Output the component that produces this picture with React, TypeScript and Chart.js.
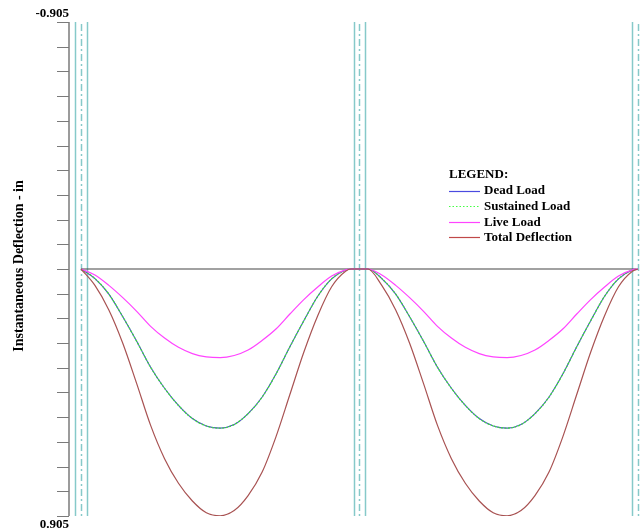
import React, { useEffect, useRef } from "react";
import { Chart, registerables } from "chart.js";

Chart.register(...registerables);

// Stations along the beam (ft); span 1 then span 2
const stations = [
  0, 1, 2, 3, 4, 5, 6, 7, 8, 9, 10, 11, 12, 13, 14, 15, 16, 17, 18, 19, 19.4,
  20.6, 21.6, 22.6, 23.6, 24.6, 25.6, 26.6, 27.6, 28.6, 29.6, 30.6, 31.6, 32.6, 33.6, 34.6, 35.6, 36.6, 37.6, 38.6, 39.6, 40,
];

// Instantaneous deflection (in), positive = downward
const deadLoad = [
  0, 0.035, 0.092, 0.175, 0.265, 0.36, 0.437, 0.5, 0.548, 0.575, 0.583, 0.57, 0.53, 0.47, 0.385, 0.285, 0.19, 0.1, 0.036, 0.004, 0,
  0, 0.035, 0.092, 0.175, 0.265, 0.36, 0.437, 0.5, 0.548, 0.575, 0.583, 0.57, 0.53, 0.47, 0.385, 0.285, 0.19, 0.1, 0.036, 0.004, 0,
];
const sustainedLoad = [
  0, 0.035, 0.092, 0.175, 0.265, 0.36, 0.437, 0.5, 0.548, 0.575, 0.583, 0.57, 0.53, 0.47, 0.385, 0.285, 0.19, 0.1, 0.036, 0.004, 0,
  0, 0.035, 0.092, 0.175, 0.265, 0.36, 0.437, 0.5, 0.548, 0.575, 0.583, 0.57, 0.53, 0.47, 0.385, 0.285, 0.19, 0.1, 0.036, 0.004, 0,
];
const liveLoad = [
  0, 0.022, 0.06, 0.105, 0.155, 0.21, 0.253, 0.287, 0.31, 0.322, 0.325, 0.317, 0.297, 0.262, 0.22, 0.165, 0.112, 0.066, 0.026, 0.003, 0,
  0, 0.022, 0.06, 0.105, 0.155, 0.21, 0.253, 0.287, 0.31, 0.322, 0.325, 0.317, 0.297, 0.262, 0.22, 0.165, 0.112, 0.066, 0.026, 0.003, 0,
];
const totalDeflection = [
  0, 0.06, 0.15, 0.272, 0.42, 0.573, 0.695, 0.785, 0.85, 0.893, 0.904, 0.885, 0.83, 0.745, 0.615, 0.46, 0.305, 0.171, 0.065, 0.008, 0,
  0, 0.06, 0.15, 0.272, 0.42, 0.573, 0.695, 0.785, 0.85, 0.893, 0.904, 0.885, 0.83, 0.745, 0.615, 0.46, 0.305, 0.171, 0.065, 0.008, 0,
];

const baselineX = [0, 39.85];
const supports = [0, 20, 40];
const supportHalfWidth = 0.43;

const yLimit = 0.905;
const yTickCount = 21;
const yEndLabels = ["-0.905", "0.905"];
const yTitle = "Instantaneous Deflection - in";
const legendTitle = "LEGEND:";
const seriesLabels = ["Dead Load", "Sustained Load", "Live Load", "Total Deflection"];

const SERIF = "'Liberation Serif', 'Times New Roman', serif";

const pts = (vals: number[]) => stations.map((x, i) => ({ x, y: vals[i] }));

export default function App() {
  const ref = useRef<HTMLCanvasElement | null>(null);

  useEffect(() => {
    if (!ref.current) return;

    const legendStyles = [
      { color: "#4a4ae0", dash: [] as number[] },
      { color: "#44ff44", dash: [1.5, 2] },
      { color: "#ff44ff", dash: [] as number[] },
      { color: "#c04848", dash: [] as number[] },
    ];

    const decor = {
      id: "decor",
      beforeDatasetsDraw(chart: any) {
        const { ctx, chartArea, scales } = chart;
        const xs = scales.x;
        ctx.save();
        ctx.strokeStyle = "#86c9c9";
        ctx.lineWidth = 1.5;
        supports.forEach((s) => {
          const c = xs.getPixelForValue(s);
          const l = xs.getPixelForValue(s - supportHalfWidth);
          const r = xs.getPixelForValue(s + supportHalfWidth);
          [l, r].forEach((px) => {
            ctx.setLineDash([]);
            ctx.beginPath();
            ctx.moveTo(Math.round(px) + 0.5, chartArea.top);
            ctx.lineTo(Math.round(px) + 0.5, chartArea.bottom);
            ctx.stroke();
          });
          ctx.setLineDash([7, 3, 2, 3]);
          ctx.beginPath();
          ctx.moveTo(Math.round(c) + 0.5, chartArea.top + 2);
          ctx.lineTo(Math.round(c) + 0.5, chartArea.bottom);
          ctx.stroke();
        });
        ctx.restore();
      },
      afterDraw(chart: any) {
        const { ctx, chartArea, scales } = chart;
        const ys = scales.y;
        const left = chartArea.left;
        ctx.save();
        // axis line
        ctx.strokeStyle = "#7a7a7a";
        ctx.lineWidth = 1.5;
        ctx.beginPath();
        ctx.moveTo(left, ys.getPixelForValue(-yLimit));
        ctx.lineTo(left, ys.getPixelForValue(yLimit));
        ctx.stroke();
        // ticks
        ctx.lineWidth = 1;
        const step = (2 * yLimit) / (yTickCount - 1);
        for (let i = 0; i < yTickCount; i++) {
          const py = Math.round(ys.getPixelForValue(-yLimit + i * step)) + 0.5;
          ctx.beginPath();
          ctx.moveTo(left - 12, py);
          ctx.lineTo(left, py);
          ctx.stroke();
        }
        // end labels
        ctx.fillStyle = "#000";
        ctx.font = `bold 13px ${SERIF}`;
        ctx.textAlign = "right";
        ctx.textBaseline = "alphabetic";
        ctx.fillText(yEndLabels[0], left, ys.getPixelForValue(-yLimit) - 5);
        ctx.fillText(yEndLabels[1], left, ys.getPixelForValue(yLimit) + 12);
        // title
        ctx.save();
        ctx.translate(19, (chartArea.top + chartArea.bottom) / 2 - 3);
        ctx.rotate(-Math.PI / 2);
        ctx.font = `bold 14px ${SERIF}`;
        ctx.textAlign = "center";
        ctx.textBaseline = "middle";
        ctx.fillText(yTitle, 0, 0);
        ctx.restore();
        // legend
        const lx = 449;
        const ly = 175;
        ctx.font = `bold 13px ${SERIF}`;
        ctx.textAlign = "left";
        ctx.textBaseline = "middle";
        ctx.fillText(legendTitle, lx, ly);
        seriesLabels.forEach((lab, i) => {
          const y = 190.5 + i * 15.6;
          ctx.strokeStyle = legendStyles[i].color;
          ctx.lineWidth = 1.2;
          ctx.setLineDash(legendStyles[i].dash);
          ctx.beginPath();
          ctx.moveTo(lx, Math.round(y) + 0.5);
          ctx.lineTo(lx + 31, Math.round(y) + 0.5);
          ctx.stroke();
          ctx.setLineDash([]);
          ctx.fillText(lab, lx + 35, y + 0.5);
        });
        ctx.restore();
      },
    };

    const common = {
      pointRadius: 0,
      fill: false,
      cubicInterpolationMode: "monotone" as const,
    };

    const chart = new Chart(ref.current, {
      type: "line",
      data: {
        datasets: [
          {
            label: "baseline",
            data: baselineX.map((x) => ({ x, y: 0 })),
            borderColor: "#444444",
            borderWidth: 1.2,
            pointRadius: 0,
            order: 10,
          },
          { ...common, label: seriesLabels[0], data: pts(deadLoad), borderColor: "#5050c8", borderWidth: 1.1, order: 4 },
          {
            ...common,
            label: seriesLabels[1],
            data: pts(sustainedLoad),
            borderColor: "#3cdc3c",
            borderWidth: 1.3,
            borderDash: [2, 1.5],
            order: 3,
          },
          { ...common, label: seriesLabels[2], data: pts(liveLoad), borderColor: "#ff44ff", borderWidth: 1.2, order: 2 },
          { ...common, label: seriesLabels[3], data: pts(totalDeflection), borderColor: "#a85252", borderWidth: 1.2, order: 1 },
        ],
      },
      options: {
        animation: false,
        responsive: false,
        layout: { padding: { left: 69, top: 22, bottom: 13, right: 0 } },
        plugins: { legend: { display: false }, tooltip: { enabled: false }, title: { display: false } },
        scales: {
          x: { type: "linear", display: false, min: -0.862, max: 40.144 },
          y: { type: "linear", display: false, reverse: true, min: -yLimit, max: yLimit },
        },
      },
      plugins: [decor],
    });

    return () => chart.destroy();
  }, []);

  return (
    <div style={{ position: "absolute", left: 0, top: 0, width: 640, height: 529, background: "#fff" }}>
      <canvas ref={ref} width={640} height={529} style={{ display: "block" }} />
    </div>
  );
}
